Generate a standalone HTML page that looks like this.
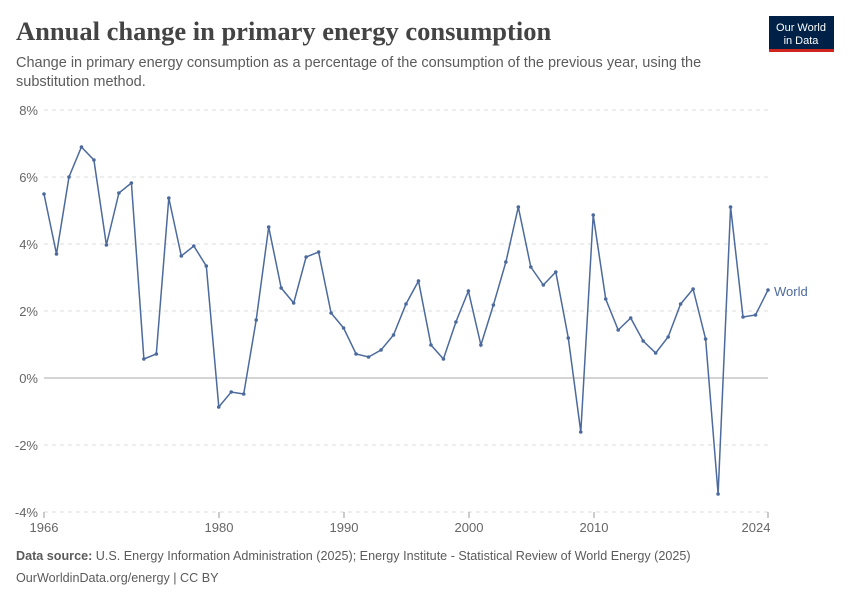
<!DOCTYPE html>
<html><head><meta charset="utf-8"><style>
body{margin:0;background:#fff;font-family:"Liberation Sans",sans-serif;}
svg text{font-family:"Liberation Sans",sans-serif;}
</style></head><body>
<svg width="850" height="600" xmlns="http://www.w3.org/2000/svg">
<text x="16" y="40" font-size="26.5" font-weight="bold" fill="#444" style="font-family:'Liberation Serif',serif">Annual change in primary energy consumption</text>
<text x="16" y="67" font-size="14.5" fill="#5b5b5b">Change in primary energy consumption as a percentage of the consumption of the previous year, using the</text>
<text x="16" y="86" font-size="14.5" fill="#5b5b5b">substitution method.</text>
<rect x="769" y="16" width="65" height="36" fill="#002147"/>
<rect x="769" y="49" width="65" height="3" fill="#ce261e"/>
<text x="801" y="31" font-size="11" fill="#fff" text-anchor="middle">Our World</text>
<text x="801" y="44" font-size="11" fill="#fff" text-anchor="middle">in Data</text>
<g stroke="#ddd" stroke-dasharray="4,4" stroke-width="1">
<line x1="44" x2="768" y1="110" y2="110"/><line x1="44" x2="768" y1="177" y2="177"/><line x1="44" x2="768" y1="244" y2="244"/><line x1="44" x2="768" y1="311" y2="311"/><line x1="44" x2="768" y1="445" y2="445"/><line x1="44" x2="768" y1="512" y2="512"/>
</g>
<line x1="44" x2="768" y1="378" y2="378" stroke="#aaa"/>
<g font-size="13" fill="#666" text-anchor="end">
<text x="38" y="115">8%</text><text x="38" y="182">6%</text><text x="38" y="249">4%</text><text x="38" y="316">2%</text><text x="38" y="383">0%</text><text x="38" y="450">-2%</text><text x="38" y="517">-4%</text>
</g>
<g stroke="#999"><line x1="44" x2="44" y1="512" y2="518"/><line x1="219" x2="219" y1="512" y2="518"/><line x1="344" x2="344" y1="512" y2="518"/><line x1="469" x2="469" y1="512" y2="518"/><line x1="594" x2="594" y1="512" y2="518"/><line x1="768" x2="768" y1="512" y2="518"/></g>
<g font-size="13" fill="#666" text-anchor="middle">
<text x="44" y="532">1966</text><text x="219" y="532">1980</text><text x="344" y="532">1990</text><text x="469" y="532">2000</text><text x="594" y="532">2010</text><text x="756" y="532">2024</text>
</g>
<polyline id="p" fill="none" stroke="#4c6a9c" stroke-width="1.5" points=""/>
<g id="d" fill="#4c6a9c"></g>
<text x="774" y="296" font-size="13" fill="#4c6a9c">World</text>
<text x="16" y="560" font-size="12.6" fill="#5b5b5b"><tspan font-weight="bold">Data source:</tspan> U.S. Energy Information Administration (2025); Energy Institute - Statistical Review of World Energy (2025)</text>
<text x="16" y="582" font-size="12.6" fill="#5b5b5b">OurWorldinData.org/energy | CC BY</text>
</svg>
<script>
var ys=[194,254,177,147,160,245,193,183,359,354,198,256,246,266,407,392,394,320,227,288,303,257,252,313,328,354,357,350,335,304,281,345,359,322,291,345,305,262,207,267,285,272,338,432,215,299,330,318,341,353,337,304,289,339,494,207,317,315,290];
var pts=[],g=document.getElementById('d'),ns="http://www.w3.org/2000/svg";
ys.forEach(function(y,i){var x=44+i*724/58;pts.push(x.toFixed(1)+","+y);var c=document.createElementNS(ns,'circle');c.setAttribute('cx',x);c.setAttribute('cy',y);c.setAttribute('r',1.8);g.appendChild(c);});
document.getElementById('p').setAttribute('points',pts.join(' '));
</script>
</body></html>
